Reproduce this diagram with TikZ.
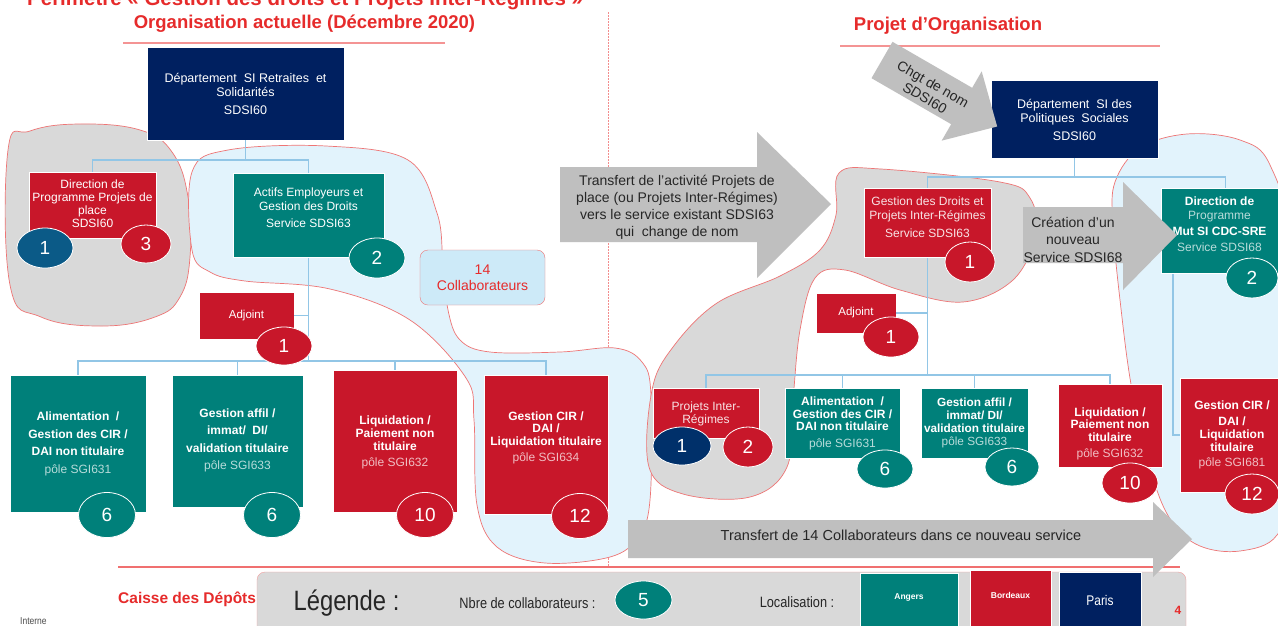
\documentclass[tikz,border=0pt]{standalone}
\usepackage{fontspec}
\setmainfont{Liberation Sans}
\newfontfamily\narrowfont[FakeStretch=0.85]{Liberation Sans}
\usetikzlibrary{shapes.geometric}

\definecolor{cdcnavy}{HTML}{002060}
\definecolor{cdcred}{HTML}{C8172A}
\definecolor{cdcteal}{HTML}{00807A}
\definecolor{steelblue}{HTML}{0B5A87}
\definecolor{deepnavy}{HTML}{00306A}
\definecolor{blobgray}{HTML}{D9D9D9}
\definecolor{arrowgray}{HTML}{BFBFBF}
\definecolor{blobblue}{HTML}{E2F3FC}
\definecolor{collabblue}{HTML}{CDEAF8}
\definecolor{blobedge}{HTML}{EE7575}
\definecolor{connblue}{HTML}{92C6E6}
\definecolor{titlered}{HTML}{E62B2B}
\definecolor{arrowtext}{HTML}{262626}
\definecolor{sepline}{HTML}{F07070}
\colorlet{paleteal}{white!72!cdcteal}
\colorlet{palered}{white!72!cdcred}
\colorlet{pinkwhite}{white!88!cdcred}

\tikzset{
  box/.style={rectangle, inner sep=0pt, draw=white, line width=0.6pt},
  navybox/.style={box, fill=cdcnavy},
  redbox/.style={box, fill=cdcred},
  tealbox/.style={box, fill=cdcteal},
  btxt/.style={text=white, align=center, inner sep=0pt, font=\fontsize{12}{14}\selectfont},
  num/.style={ellipse, draw=white, line width=0.8pt, inner sep=0pt, text=white,
              font=\fontsize{19}{19}\selectfont},
  conn/.style={draw=connblue, line width=1.6pt},
  blob/.style={draw=blobedge, line width=0.7pt},
  blockarrow/.style={fill=arrowgray},
  atxt/.style={text=arrowtext, align=center, inner sep=0pt, font=\fontsize{14}{17}\selectfont},
  heading/.style={text=titlered, inner sep=0pt, font=\fontsize{18.5}{20}\selectfont\bfseries},
  legtxt/.style={text=black!85, inner sep=0pt, font=\narrowfont\fontsize{15}{17}\selectfont},
}

\begin{document}
\begin{tikzpicture}[x=1pt,y=-1pt]
\useasboundingbox (0,0) rectangle (1278,625);
\fill[white] (0,0) rectangle (1278,625);

% page heading, only its lower part falls on the page
\node[heading, font=\fontsize{20.5}{22}\selectfont\bfseries, anchor=base west] (pagetitle) at (27,5)
  {Périmètre « Gestion des droits et Projets Inter-Régimes »};

% section headings
\node[heading] (curTitle) at (304.5,24) {Organisation actuelle (Décembre 2020)};
\draw[sepline!75, line width=1.3pt] (123,43) -- (445,43);
\node[heading] (newTitle) at (948,26) {Projet d’Organisation};
\draw[sepline!75, line width=1.3pt] (840,46) -- (1160,46);

% separation between both organisations
\draw[sepline!80, line width=1pt, dash pattern=on 1.5pt off 1.5pt] (608,12) -- (608,566);

% ---------- grouping blobs ----------
\draw[blob, fill=blobgray] plot[smooth cycle, tension=0.7] coordinates
  {(8,150) (30,131) (80,124) (140,130) (172,152) (188,197) (190,257) (180,297)
   (155,317) (102,326) (41,317) (10,285)};
\draw[blob, fill=blobblue] plot[smooth cycle, tension=0.6] coordinates
  {(192,172) (228,150) (326,146) (408,160) (437,213) (443,262) (448,310) (460,340)
   (490,352) (560,352) (615,348) (642,362) (651,395) (650,500) (638,537) (610,557)
   (545,563) (497,547) (477,505) (474,420) (466,378) (410,320) (330,289) (245,281)
   (210,272) (192,250)};
\draw[blob, fill=blobgray] plot[smooth cycle, tension=0.6] coordinates
  {(839,173) (881,169) (1000,182) (1030,198) (1036,235) (1013,280) (963,302)
   (900,290) (845,270) (815,278) (800,330) (793,400) (787,467) (750,497) (683,494)
   (649,467) (652,390) (673,347) (717,303) (780,276) (820,250) (836,215)};
\draw[blob, fill=blobblue] plot[smooth cycle, tension=0.6] coordinates
  {(1115,182) (1140,148) (1187,134) (1240,140) (1270,165) (1290,250) (1290,480)
   (1277,535) (1240,551) (1200,546) (1172,522) (1152,475) (1132,390) (1120,300)
   (1113,225)};

% ---------- current organisation ----------
\node[navybox, minimum width=197pt, minimum height=93pt] (topL) at (245.5,93.5) {};
\node[btxt, font=\fontsize{12.5}{14}\selectfont] (topLT) at (245.5,94)
  {Département~ SI Retraites~ et\\Solidarités\\[4pt]SDSI60};

\node[redbox, minimum width=127pt, minimum height=66pt] (dirL) at (92.5,205) {};
\node[tealbox, minimum width=151pt, minimum height=84pt] (act) at (308.5,215) {};
\node[redbox, btxt, font=\fontsize{11.5}{13}\selectfont, minimum width=95pt, minimum height=47pt]
  (adjL) at (246.5,315.5) {Adjoint};

\node[tealbox, minimum width=136pt, minimum height=137pt] (b1) at (78,443.5) {};
\node[tealbox, minimum width=131pt, minimum height=132pt] (b2) at (237.5,441) {};
\node[redbox, minimum width=124pt, minimum height=142pt] (b3) at (395,441) {};
\node[redbox, minimum width=124pt, minimum height=139pt] (b4) at (546,444.5) {};

\coordinate (busTL) at (245.5,160);
\coordinate (busBL) at (308.5,361);
\draw[conn] (topL.south) -- (busTL);
\draw[conn] (busTL) -| (dirL.north);
\draw[conn] (busTL) -| (act.north);
\draw[conn] (act.south) -- (busBL);
\draw[conn] (adjL.east) -- (adjL.east -| act.south);
\draw[conn] (busBL) -| (b1.north);
\draw[conn] (busBL) -| (b2.north);
\draw[conn] (busBL) -| (b3.north);
\draw[conn] (busBL) -| (b4.north);

% redraw boxes over the connector ends
\node[redbox, minimum width=127pt, minimum height=66pt] (dirLb) at (92.5,205) {};
\node[btxt, font=\fontsize{12}{13}\selectfont] (dirLT) at (92.5,204)
  {Direction de\\Programme Projets de\\place\\SDSI60};
\node[tealbox, minimum width=151pt, minimum height=84pt] (actb) at (308.5,215) {};
\node[btxt] (actT) at (308.5,208)
  {Actifs Employeurs et\\Gestion des Droits\\[3pt]Service SDSI63};

\node[btxt, font=\fontsize{12}{17.5}\selectfont] (b1T) at (78,444)
  {\textbf{Alimentation~~/}\\\textbf{Gestion des CIR /}\\\textbf{DAI non titulaire}\\\textcolor{paleteal}{pôle SGI631}};
\node[btxt, font=\fontsize{12}{17.5}\selectfont] (b2T) at (237.5,440.5)
  {\textbf{Gestion affil /}\\\textbf{immat/~ DI/}\\\textbf{validation titulaire}\\\textcolor{paleteal}{pôle SGI633}};
\node[btxt, font=\fontsize{12}{13}\selectfont] (b3T) at (395,442.5)
  {\textbf{Liquidation /}\\\textbf{Paiement non}\\\textbf{titulaire}\\[3pt]\textcolor{palered}{pôle SGI632}};
\node[btxt, font=\fontsize{12}{12.5}\selectfont] (b4T) at (546,438)
  {\textbf{Gestion CIR /}\\\textbf{DAI /}\\\textbf{Liquidation titulaire}\\[4pt]\textcolor{palered}{pôle SGI634}};

\node[draw=blobedge, fill=collabblue, rounded corners=8pt, minimum width=125pt, minimum height=55pt,
      text=titlered, align=center, inner sep=0pt, font=\fontsize{14}{16.5}\selectfont]
  (collab) at (482.5,277.5) {14\\Collaborateurs};

\node[num, fill=steelblue, minimum width=56pt, minimum height=40pt] (n1a) at (45,248) {1};
\node[num, fill=cdcred, minimum width=50pt, minimum height=38pt] (n3a) at (146,244) {3};
\node[num, fill=cdcteal, minimum width=56pt, minimum height=40pt] (n2a) at (377,258) {2};
\node[num, fill=cdcred, minimum width=56pt, minimum height=38pt] (n1b) at (284,346) {1};
\node[num, fill=cdcteal, minimum width=57pt, minimum height=45pt] (n6a) at (107,515) {6};
\node[num, fill=cdcteal, minimum width=57pt, minimum height=45pt] (n6b) at (272,515) {6};
\node[num, fill=cdcred, minimum width=57pt, minimum height=45pt] (n10a) at (425,515) {10};
\node[num, fill=cdcred, minimum width=57pt, minimum height=45pt] (n12a) at (580,516) {12};

% ---------- transfer arrow between both organisations ----------
\fill[blockarrow] (560,167) -- (757,167) -- (757,132) -- (831,204) -- (757,278) -- (757,242)
  -- (560,242) -- cycle;
\node[atxt] (transfT) at (677,207.5)
  {Transfert de l’activité Projets de\\place (ou Projets Inter-Régimes)\\vers le service existant SDSI63\\qui~ change de nom};

% ---------- new organisation ----------
\node[navybox, minimum width=167pt, minimum height=78pt] (topR) at (1074.5,119) {};
\node[btxt, font=\fontsize{12.5}{14}\selectfont] (topRT) at (1074.5,120)
  {Département~ SI des\\Politiques~ Sociales\\[4pt]SDSI60};

\begin{scope}[shift={(882,60)}, rotate=-30]
  \fill[blockarrow] (0,-21) -- (92,-21) -- (92,-40) -- (133,0) -- (92,40) -- (92,21) -- (0,21) -- cycle;
\end{scope}
\node[atxt, rotate=-30, font=\fontsize{14}{16}\selectfont] (renameT) at (929,91) {Chgt de nom\\SDSI60};

\node[redbox, minimum width=127pt, minimum height=69pt] (gdr) at (927.5,222.5) {};
\node[tealbox, minimum width=117pt, minimum height=85pt] (dpr) at (1219.5,230.5) {};
\node[redbox, btxt, font=\fontsize{11.5}{13}\selectfont, minimum width=80pt, minimum height=40pt]
  (adjR) at (856,313) {Adjoint};
\node[redbox, minimum width=106pt, minimum height=50pt] (pir) at (706,413) {};
\node[tealbox, minimum width=115pt, minimum height=70pt] (ali) at (842.5,423) {};
\node[tealbox, minimum width=107pt, minimum height=70pt] (gaf) at (974.5,423) {};
\node[redbox, minimum width=104pt, minimum height=83pt] (liq) at (1110,425.5) {};
\node[redbox, minimum width=98pt, minimum height=114pt] (gcr) at (1229,435) {};

\coordinate (busTR) at (1074.5,177);
\coordinate (busBR) at (927.5,375);
\draw[conn] (topR.south) -- (busTR);
\draw[conn] (busTR) -| (gdr.north);
\draw[conn] (busTR) -| ([xshift=6pt]dpr.north);
\draw[conn] (gdr.south) -- (busBR);
\draw[conn] (adjR.east) -- (adjR.east -| gdr.south);
\draw[conn] (busBR) -| (pir.north);
\draw[conn] (busBR) -| (ali.north);
\draw[conn] (busBR) -| (gaf.north);
\draw[conn] (busBR) -| (liq.north);
\draw[conn] ([xshift=12pt]dpr.south west) |- (gcr.west);

\node[redbox, minimum width=127pt, minimum height=69pt] (gdrb) at (927.5,222.5) {};
\node[btxt, text=pinkwhite] (gdrT) at (927.5,217.5)
  {Gestion des Droits et\\Projets Inter-Régimes\\[4pt]Service SDSI63};
\node[tealbox, minimum width=117pt, minimum height=85pt] (dprb) at (1219.5,230.5) {};
\node[btxt, font=\fontsize{12}{14}\selectfont] (dprT) at (1219.5,224.5)
  {\textbf{Direction de}\\\textcolor{paleteal}{Programme}\\[2pt]\textbf{Mut SI CDC-SRE}\\[2pt]\textcolor{paleteal}{Service SDSI68}};
\node[btxt, text=pinkwhite, font=\fontsize{12}{13}\selectfont] (pirT) at (706,413.5) {Projets Inter-\\Régimes};
\node[btxt, font=\fontsize{12}{12.5}\selectfont] (aliT) at (842.5,423.5)
  {\textbf{Alimentation~~/}\\\textbf{Gestion des CIR /}\\\textbf{DAI non titulaire}\\[4pt]\textcolor{paleteal}{pôle SGI631}};
\node[btxt, font=\fontsize{11.8}{13}\selectfont] (gafT) at (974.5,422.5)
  {\textbf{Gestion affil /}\\\textbf{immat/ DI/}\\\textbf{validation titulaire}\\\textcolor{paleteal}{pôle SGI633}};
\node[btxt, font=\fontsize{12}{12.5}\selectfont] (liqT) at (1110,434)
  {\textbf{Liquidation /}\\\textbf{Paiement non}\\\textbf{titulaire}\\[4pt]\textcolor{palered}{pôle SGI632}};
\node[btxt, font=\fontsize{12}{13}\selectfont] (gcrT) at (1232,434.5)
  {\textbf{Gestion CIR /}\\[3pt]\textbf{DAI /}\\\textbf{Liquidation}\\\textbf{titulaire}\\[2pt]\textcolor{palered}{pôle SGI681}};

\node[num, fill=cdcred, minimum width=50pt, minimum height=40pt] (n1c) at (970,262) {1};
\node[num, fill=cdcteal, minimum width=52pt, minimum height=40pt] (n2b) at (1252,278) {2};
\node[num, fill=cdcred, minimum width=56pt, minimum height=40pt] (n1d) at (891,337) {1};
\node[num, fill=deepnavy, minimum width=58pt, minimum height=38pt] (n1e) at (682,446) {1};
\node[num, fill=cdcred, minimum width=50pt, minimum height=40pt] (n2c) at (748,447) {2};
\node[num, fill=cdcteal, minimum width=56pt, minimum height=38pt] (n6c) at (885,469) {6};
\node[num, fill=cdcteal, minimum width=54pt, minimum height=38pt] (n6d) at (1012,467) {6};
\node[num, fill=cdcred, minimum width=56pt, minimum height=40pt] (n10b) at (1130,483) {10};
\node[num, fill=cdcred, minimum width=54pt, minimum height=40pt] (n12b) at (1252,494) {12};

% creation of the new service
\fill[blockarrow] (1023,207) -- (1123,207) -- (1123,182) -- (1177,235) -- (1123,290) -- (1123,263)
  -- (1023,263) -- cycle;
\node[atxt, font=\fontsize{14}{17.5}\selectfont] (creaT) at (1073,239.5) {Création d’un\\nouveau\\Service SDSI68};

% ---------- footer ----------
\draw[sepline, line width=2pt] (118,567) -- (1180,567);
\node[text=titlered, anchor=west, inner sep=0pt, font=\fontsize{15.5}{17}\selectfont\bfseries]
  (cdc) at (118,599) {Caisse des Dépôts};
\node[text=black!70, anchor=west, inner sep=0pt, font=\narrowfont\fontsize{10}{11}\selectfont]
  (intern) at (20,621) {Interne};

\node[draw=blobedge!70, fill=blobgray, rounded corners=8pt, minimum width=929pt, minimum height=62pt,
      inner sep=0pt] (legend) at (721.5,603) {};
\node[legtxt, font=\narrowfont\fontsize{28}{30}\selectfont] (legT) at (346.5,603) {Légende :};
\node[legtxt] (nbreT) at (527.5,603) {Nbre de collaborateurs :};
\node[num, fill=cdcteal, minimum width=57pt, minimum height=38pt] (n5) at (643.5,600) {5};
\node[legtxt] (locT) at (797,602) {Localisation :};
\node[tealbox, minimum width=98pt, minimum height=57pt] (angers) at (909,601.5) {};
\node[btxt, font=\fontsize{8.5}{9}\selectfont\bfseries] (angersT) at (909,597) {Angers};
\node[redbox, minimum width=81pt, minimum height=60pt] (bordeaux) at (1010.5,600) {};
\node[btxt, font=\fontsize{8.5}{9}\selectfont\bfseries] (bordeauxT) at (1010.5,595) {Bordeaux};
\node[navybox, minimum width=82pt, minimum height=58pt] (paris) at (1100,601) {};
\node[btxt, font=\narrowfont\fontsize{14}{15}\selectfont] (parisT) at (1100,600) {Paris};
\node[text=titlered, inner sep=0pt, font=\fontsize{12}{13}\selectfont\bfseries] (pageno) at (1178,610) {4};

% transfer of the staff into the new service
\fill[blockarrow] (628,520) -- (1153,520) -- (1153,502) -- (1192,539) -- (1153,577) -- (1153,558)
  -- (628,558) -- cycle;
\node[atxt, font=\fontsize{14.5}{16}\selectfont] (staffT) at (901,535)
  {Transfert de 14 Collaborateurs dans ce nouveau service};
\end{tikzpicture}
\end{document}
